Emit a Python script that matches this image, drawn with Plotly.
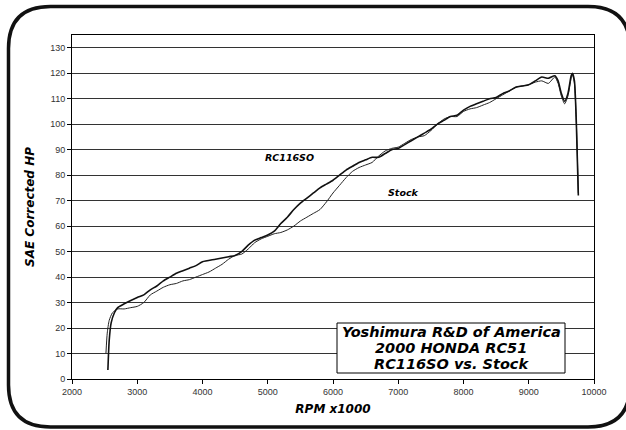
import plotly.graph_objects as go

# ---- data ----
rpm_rc = [2550, 2570, 2600, 2650, 2700, 2800, 3000, 3100, 3200, 3300, 3400, 3500, 3600, 3700, 3800, 3900,
          4000, 4200, 4400, 4500, 4600, 4700, 4800, 4900, 5000, 5100, 5200, 5300, 5400, 5500, 5600, 5700,
          5800, 5900, 6000, 6100, 6200, 6300, 6400, 6500, 6600, 6700, 6800, 6900, 7000, 7100, 7200, 7300,
          7400, 7500, 7600, 7700, 7800, 7900, 8000, 8100, 8200, 8300, 8400, 8500, 8600, 8700, 8800, 8900,
          9000, 9100, 9200, 9300, 9400, 9450, 9500, 9550, 9600, 9650, 9670, 9700, 9730, 9760]
hp_rc = [3.5, 15, 22, 26, 28, 29.5, 32, 33, 35, 36.5, 38.5, 40, 41.5, 42.5, 43.5, 44.5,
         46, 47, 48, 48.5, 50, 52.5, 54.5, 55.5, 56.5, 58, 61, 63.5, 66.5, 69, 71, 73,
         75, 76.5, 78, 80, 82, 83.5, 85, 86, 87, 87, 88.5, 90, 90.5, 92, 93.5, 95,
         96.5, 98, 100, 101.5, 103, 103.5, 105.5, 107, 108, 109, 110, 110.5, 112, 113, 114.5, 115,
         115.5, 117, 118.5, 118, 119, 117, 112, 109, 112, 119, 120, 117, 100, 72]

rpm_stock = [2520, 2540, 2570, 2620, 2700, 2800, 2900, 3000, 3100, 3200, 3300, 3400, 3500, 3600, 3700, 3800,
             3900, 4000, 4100, 4200, 4300, 4400, 4500, 4600, 4700, 4800, 4900, 5000, 5100, 5200, 5300, 5400,
             5500, 5600, 5700, 5800, 5900, 6000, 6100, 6200, 6300, 6400, 6500, 6600, 6700, 6800, 6900, 7000,
             7100, 7200, 7300, 7400, 7500, 7600, 7700, 7800, 7900, 8000, 8100, 8200, 8300, 8400, 8500, 8600,
             8700, 8800, 8900, 9000, 9100, 9200, 9300, 9400, 9450, 9500, 9550, 9600, 9650, 9670, 9700, 9730, 9760]
hp_stock = [10, 18, 23, 26, 27.5, 27.5, 28, 28.5, 30, 33, 34.5, 36, 37, 37.5, 38.5, 39,
            40, 41, 42, 43.5, 45, 47, 48.5, 49, 51, 53.5, 55, 56, 57, 57.5, 58.5, 60,
            62, 63.5, 65, 66.5, 69.5, 73, 76, 79, 81.5, 83, 84, 85, 87.5, 89.5, 90.5, 91,
            92.5, 94, 95, 95.5, 97.5, 100, 102, 103, 103, 105, 106, 106.5, 107.5, 108.5, 110, 111.5,
            113, 114.5, 115, 115.5, 116.5, 117, 116, 118.5, 116, 111, 108, 111, 118, 119.5, 116, 100, 73]

x_ticks = [2000, 3000, 4000, 5000, 6000, 7000, 8000, 9000, 10000]
y_ticks = [0, 10, 20, 30, 40, 50, 60, 70, 80, 90, 100, 110, 120, 130]

# ---- layout geometry (pixels) ----
W, H = 626, 430
L, R, T, B = 72, 594, 35, 379
pw, ph = R - L, B - T

def px(x):
    return (x - L) / pw

def py(y):
    return (B - y) / ph

fig = go.Figure()
fig.add_trace(go.Scatter(x=rpm_stock, y=hp_stock, mode="lines", name="Stock",
                         line=dict(color="#222222", width=1, shape="spline", smoothing=0.6)))
fig.add_trace(go.Scatter(x=rpm_rc, y=hp_rc, mode="lines", name="RC116SO",
                         line=dict(color="#111111", width=1.6, shape="spline", smoothing=0.6)))

title_font = dict(family="DejaVu Sans", size=12, color="black", weight="bold", style="italic")
tick_font = dict(family="Liberation Sans", size=9, color="#333333")

fig.update_xaxes(range=[2000, 10000], tickvals=x_ticks, tickformat="d", ticks="outside", ticklen=4,
                 tickcolor="black", showline=True, linecolor="black", linewidth=1, mirror=True,
                 showgrid=False, zeroline=False, tickfont=tick_font,
                 title=dict(text="RPM x1000", font=title_font, standoff=8))
fig.update_yaxes(range=[0, 135], tickvals=y_ticks, ticks="outside", ticklen=4, tickcolor="black",
                 showline=True, linecolor="black", linewidth=1, mirror=True, showgrid=True,
                 gridcolor="#333333", gridwidth=1, zeroline=False, tickfont=tick_font,
                 title=dict(text="SAE Corrected HP", font=title_font, standoff=12))

# labels
lab_font = dict(family="DejaVu Sans", size=9.5, color="black", weight="bold", style="italic")
fig.add_annotation(x=5335, y=87, text="RC116SO", showarrow=False, font=lab_font)
fig.add_annotation(x=7078, y=73, text="Stock", showarrow=False, font=lab_font)

# title box
fig.add_shape(type="rect", xref="paper", yref="paper", x0=px(337), x1=px(565), y0=py(373), y1=py(323),
              line=dict(color="black", width=1), fillcolor="white", layer="above")
box_font = dict(family="DejaVu Sans", size=14.5, color="black", weight="bold", style="italic")
for i, line in enumerate(["Yoshimura R&D of America", "2000 HONDA RC51", "RC116SO vs. Stock"]):
    fig.add_annotation(xref="paper", yref="paper", x=px(451), y=py(332 + i * 16), text=line,
                       showarrow=False, font=box_font, xanchor="center", yanchor="middle")

# outer rounded border
x0, x1, y0, y1, r = 8.5, 630, 6.5, 427, 42
def P(x, y):
    return f"{px(x):.5f},{py(y):.5f}"
path = (f"M {P(x0 + r, y0)} L {P(x1 - r, y0)} Q {P(x1, y0)} {P(x1, y0 + r)} "
        f"L {P(x1, y1 - r)} Q {P(x1, y1)} {P(x1 - r, y1)} L {P(x0 + r, y1)} "
        f"Q {P(x0, y1)} {P(x0, y1 - r)} L {P(x0, y0 + r)} Q {P(x0, y0)} {P(x0 + r, y0)} Z")
fig.add_shape(type="path", xref="paper", yref="paper", path=path, line=dict(color="#111111", width=3.5))

fig.update_layout(width=W, height=H, margin=dict(l=L, r=W - R, t=T, b=H - B, autoexpand=False),
                  paper_bgcolor="white", plot_bgcolor="white", showlegend=False)

fig.write_html("out.html", config={"displayModeBar": False},
               post_script="document.body.style.margin='0px';")
